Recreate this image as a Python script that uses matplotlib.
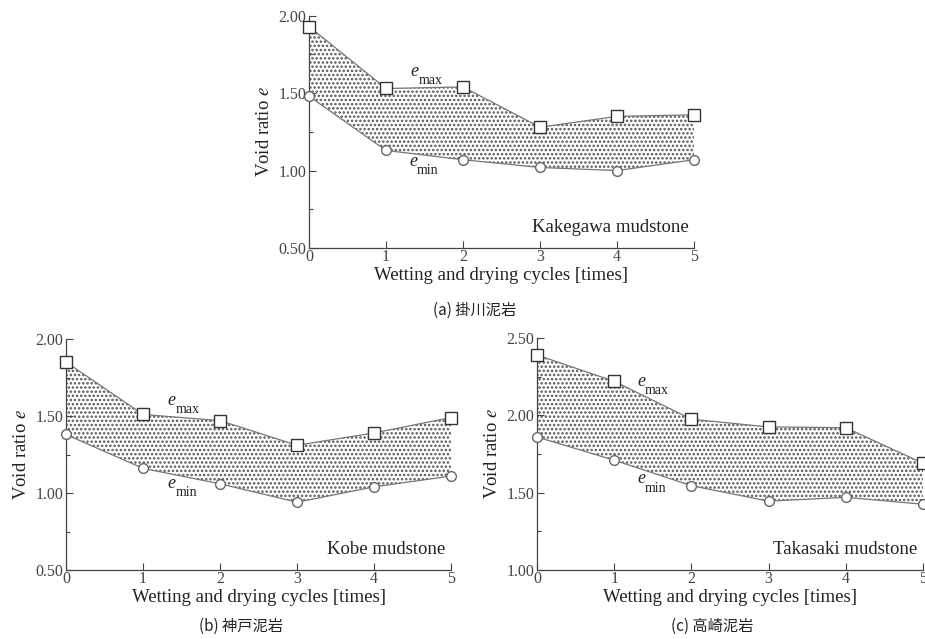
import numpy as np
import matplotlib
matplotlib.use('Agg')
import matplotlib.pyplot as plt
from matplotlib.ticker import MultipleLocator, FormatStrFormatter

plt.rcParams['font.family'] = ['Liberation Serif', 'DejaVu Serif']
plt.rcParams['mathtext.fontset'] = 'stix'
plt.rcParams['hatch.color'] = '#555555'
plt.rcParams['hatch.linewidth'] = 1.2

# ---- data ----
cycles = [0, 1, 2, 3, 4, 5]

kakegawa_emax = [1.93, 1.53, 1.54, 1.28, 1.35, 1.36]
kakegawa_emin = [1.48, 1.13, 1.07, 1.02, 1.00, 1.07]

kobe_emax = [1.85, 1.51, 1.47, 1.31, 1.39, 1.49]
kobe_emin = [1.38, 1.16, 1.06, 0.94, 1.04, 1.11]

takasaki_emax = [2.39, 2.22, 1.975, 1.925, 1.92, 1.69]
takasaki_emin = [1.86, 1.71, 1.545, 1.445, 1.47, 1.425]

names = ['Kakegawa mudstone', 'Kobe mudstone', 'Takasaki mudstone']
captions = ['(a) 掛川泥岩', '(b) 神戸泥岩', '(c) 高崎泥岩']
ylims = [(0.5, 2.0), (0.5, 2.0), (1.0, 2.5)]

W, H = 925, 639
fig = plt.figure(figsize=(W / 100, H / 100), dpi=100)

# axes boxes in pixels: left, right, top, bottom
boxes = [(309, 694, 15.7, 248), (66, 451, 339, 570), (537, 923, 338, 570)]
# e label positions (x, y) in data coords for emax / emin
emax_pos = [(1.32, 1.64), (1.32, 1.60), (1.30, 2.22)]
emin_pos = [(1.30, 1.06), (1.32, 1.06), (1.30, 1.59)]
name_y = [0.63, 0.63, 1.13]
cap_xy = [(475, 310), (241, 626), (712, 626)]

data = [(kakegawa_emax, kakegawa_emin), (kobe_emax, kobe_emin),
        (takasaki_emax, takasaki_emin)]

for i, (emax, emin) in enumerate(data):
    l, r, t, b = boxes[i]
    ax = fig.add_axes([l / W, 1 - b / H, (r - l) / W, (b - t) / H])
    y0, y1 = ylims[i]
    ax.set_xlim(0, 5)
    ax.set_ylim(y0, y1)

    ax.fill_between(cycles, emin, emax, facecolor='white', edgecolor='#555555',
                    hatch='....', linewidth=0)
    ax.plot(cycles, emax, color='#777777', lw=0.9, marker='s', ms=8,
            mfc='white', mec='#333333', mew=1.0, clip_on=False, zorder=3)
    ax.plot(cycles, emin, color='#777777', lw=0.9, marker='o', ms=7,
            mfc='white', mec='#666666', mew=1.0, clip_on=False, zorder=3)

    for s in ['top', 'right']:
        ax.spines[s].set_visible(False)
    for s in ['left', 'bottom']:
        ax.spines[s].set_color('#444444')
        ax.spines[s].set_linewidth(0.9)

    ax.xaxis.set_major_locator(MultipleLocator(1))
    ax.yaxis.set_major_locator(MultipleLocator(0.5))
    ax.yaxis.set_minor_locator(MultipleLocator(0.25))
    ax.yaxis.set_major_formatter(FormatStrFormatter('%.2f'))
    ax.tick_params(direction='in', length=5, width=0.8, color='#444444',
                   labelsize=11.5, labelcolor='#444444')
    ax.tick_params(axis='x', pad=1)
    ax.tick_params(axis='y', pad=2)
    ax.tick_params(which='minor', direction='in', length=3, width=0.8,
                   color='#444444')

    ax.set_xlabel('Wetting and drying cycles [times]', fontsize=13.5,
                  color='#222222', labelpad=1)
    ax.set_ylabel('Void ratio $e$', fontsize=13.5, color='#222222', labelpad=4)

    # e_max / e_min labels
    ex, ey = emax_pos[i]
    dy = (y1 - y0) * 0.04
    ax.text(ex, ey, 'e', style='italic', fontsize=13, color='#222222',
            ha='left', va='center')
    ax.text(ex + 0.1, ey - dy, 'max', fontsize=10, color='#222222',
            ha='left', va='center')
    ex, ey = emin_pos[i]
    ax.text(ex, ey, 'e', style='italic', fontsize=13, color='#222222',
            ha='left', va='center')
    ax.text(ex + 0.1, ey - dy, 'min', fontsize=10, color='#222222',
            ha='left', va='center')

    ax.text(4.93, name_y[i], names[i], fontsize=13.5, color='#222222',
            ha='right', va='center')

    cx, cy = cap_xy[i]
    fig.text(cx / W, 1 - cy / H, captions[i], fontsize=11, color='#222222',
             ha='center', va='center',
             family=['Noto Sans CJK JP', 'DejaVu Sans'])

fig.savefig('out.png', dpi=100)
